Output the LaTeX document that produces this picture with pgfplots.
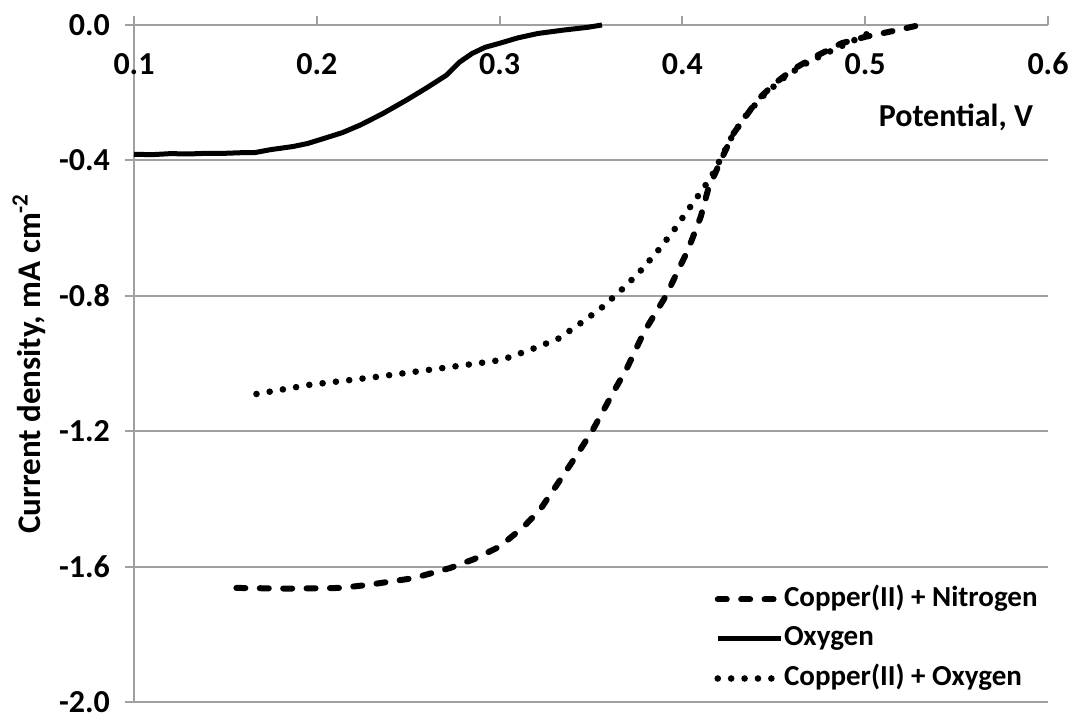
\documentclass[border=0pt]{standalone}
\usepackage{fontspec}
\setmainfont{Carlito}
\usepackage{pgfplots}
\pgfplotsset{compat=1.18}
\usetikzlibrary{calc}
\definecolor{axgray}{RGB}{160,160,160}

\begin{document}
\begin{tikzpicture}
\begin{axis}[
  scale only axis,
  width=457pt, height=338.5pt,
  xmin=0.1, xmax=0.6, ymin=-2.0, ymax=0.0,
  axis x line*=top, axis y line*=left,
  axis line style={axgray, line width=1pt},
  tick style={axgray, line width=1pt},
  major tick length=4.5pt,
  tick align=outside,
  xtick={0.1,0.2,0.3,0.4,0.5,0.6},
  ytick={0,-0.4,-0.8,-1.2,-1.6,-2.0},
  ymajorgrids,
  grid style={axgray, line width=1pt},
  /pgf/number format/assume math mode=true,
  xticklabel style={/pgf/number format/.cd, fixed, fixed zerofill, precision=1, /tikz/.cd, font=\fontsize{16}{19}\selectfont\bfseries, anchor=north, yshift=-15pt},
  yticklabel style={/pgf/number format/.cd, fixed, fixed zerofill, precision=1, /tikz/.cd, font=\fontsize{16}{19}\selectfont\bfseries, xshift=-4pt},
  ylabel={Current density, mA cm\textsuperscript{-2}},
  ylabel style={font=\fontsize{16.5}{19}\selectfont\bfseries, at={(axis description cs:-0.115,0.5)}, rotate=0, anchor=center},
  legend style={draw=none, fill=none, at={(0.989,0.012)}, anchor=south east,
    font=\fontsize{14.5}{17}\selectfont\bfseries, row sep=4.75pt, inner sep=0pt,
    nodes={inner sep=0pt, text height=11pt, text depth=4pt},
    /tikz/every even column/.append style={column sep=6.5pt}},
  legend cell align=left,
  legend image code/.code={\draw[#1] (0pt,0pt) -- (31.5pt,0pt);},
  clip=false,
]
\coordinate (pSW) at (rel axis cs:0,0);
\coordinate (pNE) at (rel axis cs:1,1);

\addplot[black, line width=3pt, line cap=round, dash pattern=on 4.5pt off 7.2pt] coordinates {
(0.156,-1.663) (0.185,-1.665) (0.213,-1.663) (0.228,-1.654) (0.253,-1.634)
(0.273,-1.604) (0.286,-1.578) (0.300,-1.541) (0.313,-1.483) (0.322,-1.433)
(0.332,-1.353) (0.343,-1.264) (0.351,-1.196) (0.362,-1.087) (0.370,-1.010)
(0.379,-0.907) (0.391,-0.800) (0.403,-0.665) (0.410,-0.567) (0.414,-0.487)
(0.421,-0.400) (0.428,-0.320) (0.436,-0.260) (0.441,-0.222) (0.450,-0.175)
(0.460,-0.133) (0.472,-0.095) (0.487,-0.054) (0.500,-0.035) (0.515,-0.018)
(0.530,0.000)
};
\addlegendentry{Copper(II) + Nitrogen}

\addplot[black, line width=2.5pt] coordinates {
(0.100,-0.382) (0.110,-0.383) (0.120,-0.380) (0.130,-0.381) (0.140,-0.379)
(0.150,-0.379) (0.160,-0.377) (0.166,-0.377) (0.175,-0.368) (0.187,-0.359)
(0.195,-0.350) (0.204,-0.335) (0.214,-0.318) (0.224,-0.295) (0.236,-0.262)
(0.249,-0.222) (0.260,-0.186) (0.271,-0.148) (0.278,-0.110) (0.285,-0.084)
(0.292,-0.066) (0.300,-0.054) (0.310,-0.038) (0.321,-0.025) (0.335,-0.015)
(0.348,-0.007) (0.356,0.000)
};
\addlegendentry{Oxygen}

\addplot[black, line width=3.3pt, line cap=round, dash pattern=on 0pt off 6.7pt] coordinates {
(0.167,-1.090) (0.196,-1.063) (0.232,-1.040) (0.268,-1.014) (0.297,-0.993)
(0.304,-0.984) (0.318,-0.957) (0.332,-0.927) (0.343,-0.886) (0.355,-0.839)
(0.366,-0.786) (0.376,-0.733) (0.386,-0.671) (0.395,-0.609) (0.403,-0.547)
(0.412,-0.479) (0.417,-0.437) (0.421,-0.394) (0.428,-0.320) (0.436,-0.258)
(0.445,-0.205) (0.455,-0.158) (0.466,-0.118) (0.478,-0.085) (0.490,-0.055)
(0.500,-0.030) (0.505,-0.012)
};
\addlegendentry{Copper(II) + Oxygen}

\node[anchor=east, inner sep=0pt, font=\fontsize{16}{19}\selectfont\bfseries] at (axis cs:0.592,-0.272) {Potential, V};
\end{axis}
\pgfresetboundingbox
\path ($(pSW)+(-67pt,-8pt)$) rectangle ($(pNE)+(10pt,12.5pt)$);
\end{tikzpicture}
\end{document}
